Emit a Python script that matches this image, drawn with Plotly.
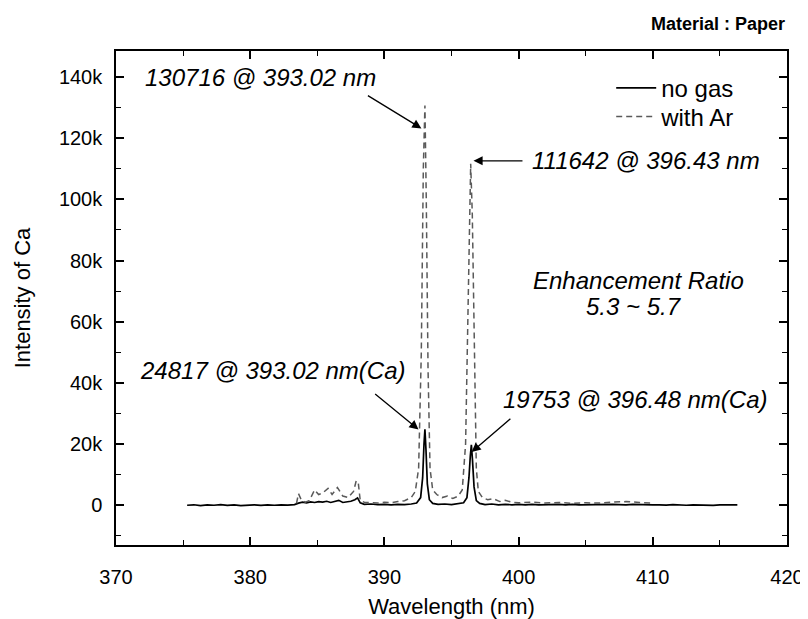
import plotly.graph_objects as go

# ---- data ----
no_gas_wl = [375.3, 375.8, 376.3, 376.8, 377.3, 377.8, 378.3, 378.8, 379.3, 379.8,
             380.3, 380.8, 381.3, 381.8, 382.3, 382.8, 383.3, 383.6, 383.9, 384.2,
             384.5, 384.8, 385.1, 385.4, 385.7, 386.0, 386.3, 386.6, 386.9, 387.2,
             387.5, 387.8, 388.0, 388.2, 388.5, 389.0, 389.5, 390.0, 390.5, 391.0,
             391.5, 392.0, 392.4, 392.7, 392.85, 392.95, 393.02, 393.1, 393.2, 393.35,
             393.6, 394.0, 394.5, 395.0, 395.5, 395.9, 396.15, 396.3, 396.4, 396.48,
             396.56, 396.68, 396.85, 397.1, 397.5, 398.0, 398.5, 399.0, 399.5, 400.0,
             400.5, 401.0, 401.5, 402.0, 402.5, 403.0, 403.5, 404.0, 404.5, 405.0,
             405.5, 406.0, 406.5, 407.0, 407.5, 408.0, 408.5, 409.0, 409.5, 410.0,
             410.5, 411.0, 411.5, 412.0, 412.5, 413.0, 413.5, 414.0, 414.5, 415.0,
             415.5, 416.0, 416.3]
no_gas_int = [0, 150, -100, 100, 0, 200, -50, 100, -100, 50,
              150, -50, 100, 0, 150, 50, 200, 700, 1000, 800,
              1100, 900, 1200, 1000, 1300, 900, 1200, 1600, 900, 1000,
              1300, 1800, 2400, 800, 300, 400, 200, 300, 100, 300,
              200, 400, 700, 2500, 9000, 20000, 24817, 18000, 7000, 1800,
              600, 300, 400, 200, 400, 800, 2500, 9000, 16000, 19753,
              15000, 6000, 1500, 600, 200, 400, 100, 300, 150, 250,
              100, 300, 150, 200, 50, 250, 100, 300, 150, 200,
              100, 250, 150, 300, 200, 100, 250, 150, 200, 100,
              150, 50, 200, 100, 0, 150, 50, 100, -50, 100,
              50, 150, 100]

ar_wl = [383.45, 383.6, 383.8, 384.1, 384.4, 384.8, 385.1, 385.4, 385.8, 386.1,
         386.5, 386.9, 387.3, 387.7, 387.9, 388.05, 388.2, 388.5, 389.0, 389.5,
         390.0, 390.5, 391.0, 391.5, 392.0, 392.3, 392.55, 392.75, 392.9, 393.02,
         393.12, 393.25, 393.4, 393.6, 393.9, 394.3, 394.7, 395.1, 395.5, 395.8,
         396.05, 396.2, 396.35, 396.43, 396.55, 396.7, 396.85, 397.0, 397.3, 397.7,
         398.1, 398.6, 399.0, 399.5, 400.0, 401.0, 402.0, 403.0, 404.0, 405.0,
         406.0, 407.0, 408.0, 409.0, 409.8]
ar_int = [600, 3800, 1800, 1000, 1500, 5000, 3500, 4000, 5500, 3500,
          5800, 3000, 2500, 4500, 8000, 7500, 1500, 1000, 900, 700,
          1000, 800, 1200, 1500, 2500, 4500, 12000, 50000, 110000, 130716,
          100000, 45000, 12000, 5000, 3500, 2500, 3000, 2200, 3000, 5000,
          20000, 60000, 100000, 111642, 95000, 45000, 12000, 4500, 2500, 1800,
          2200, 1200, 1600, 1000, 800, 1000, 700, 900, 600, 800,
          700, 1000, 1200, 900, 700]

series_names = ["no gas", "with Ar"]

FONT = "Liberation Sans, Arial, sans-serif"

fig = go.Figure()
fig.add_trace(go.Scatter(x=no_gas_wl, y=no_gas_int, mode="lines", name=series_names[0],
                         line=dict(color="black", width=1.7), legend="legend"))
fig.add_trace(go.Scatter(x=ar_wl, y=ar_int, mode="lines", name=series_names[1],
                         line=dict(color="#5a5a5a", width=1.5, dash="6px,4px"), legend="legend2"))

axis_common = dict(
    showline=True, linecolor="black", linewidth=1.5, mirror="ticks",
    ticks="inside", ticklen=8, tickwidth=1.5, tickcolor="black",
    showgrid=False, zeroline=False,
    tickfont=dict(family=FONT, size=20, color="black"),
)

fig.update_xaxes(range=[370, 420], dtick=10, tick0=370, ticklabelstandoff=13,
                 minor=dict(dtick=5, ticks="inside", ticklen=5, tickwidth=1.2, tickcolor="black"),
                 title=dict(text="Wavelength (nm)", font=dict(family=FONT, size=22, color="black"), standoff=12),
                 **axis_common)
fig.update_yaxes(range=[-13000, 148500], dtick=20000, tick0=0, tickformat="~s", ticklabelstandoff=8,
                 minor=dict(dtick=10000, ticks="inside", ticklen=5, tickwidth=1.2, tickcolor="black"),
                 title=dict(text="Intensity of Ca", font=dict(family=FONT, size=22, color="black"), standoff=22),
                 **axis_common)

ann_font = dict(family=FONT, size=24, color="black")
annotations = [
    # texts
    dict(x=380.75, y=140000, text="<i>130716 @ 393.02 nm</i>", showarrow=False, font=ann_font),
    dict(x=409.5, y=112600, text="<i>111642 @ 396.43 nm</i>", showarrow=False, font=ann_font),
    dict(x=408.96, y=73500, text="<i>Enhancement Ratio</i>", showarrow=False, font=ann_font),
    dict(x=408.6, y=65000, text="<i>5.3 ~ 5.7</i>", showarrow=False, font=ann_font),
    dict(x=381.7, y=43900, text="<i>24817 @ 393.02 nm(Ca)</i>", showarrow=False, font=ann_font),
    dict(x=408.7, y=34600, text="<i>19753 @ 396.48 nm(Ca)</i>", showarrow=False, font=ann_font),
    # arrows
    dict(x=392.76, y=123200, ax=388.66, ay=134200, xref="x", yref="y", axref="x", ayref="y",
         showarrow=True, arrowhead=2, arrowsize=1.4, arrowwidth=1.3, arrowcolor="black", text=""),
    dict(x=396.64, y=112600, ax=400.4, ay=112600, xref="x", yref="y", axref="x", ayref="y",
         showarrow=True, arrowhead=2, arrowsize=1.4, arrowwidth=1.3, arrowcolor="black", text=""),
    dict(x=392.54, y=24800, ax=389.2, ay=36800, xref="x", yref="y", axref="x", ayref="y",
         showarrow=True, arrowhead=2, arrowsize=1.4, arrowwidth=1.3, arrowcolor="black", text=""),
    dict(x=396.5, y=17400, ax=399.5, ay=28700, xref="x", yref="y", axref="x", ayref="y",
         showarrow=True, arrowhead=2, arrowsize=1.4, arrowwidth=1.3, arrowcolor="black", text=""),
    # panel label
    dict(x=1.0, y=1.0, xref="paper", yref="paper", xanchor="right", yanchor="bottom", yshift=15,
         text="<b>Material : Paper</b>", showarrow=False,
         font=dict(family=FONT, size=18, color="black")),
]
fig.update_layout(annotations=annotations)

legend_style = dict(xanchor="left", yanchor="top", bgcolor="rgba(0,0,0,0)", borderwidth=0,
                    font=dict(family=FONT, size=24, color="black"), itemwidth=40)
fig.update_layout(
    width=808, height=619,
    margin=dict(l=108, r=28, t=43, b=75),
    paper_bgcolor="white", plot_bgcolor="white",
    font=dict(family=FONT, color="black"),
    showlegend=True,
    legend=dict(x=0.738, y=0.970, **legend_style),
    legend2=dict(x=0.738, y=0.912, **legend_style),
)

fig.write_html("out.html")
